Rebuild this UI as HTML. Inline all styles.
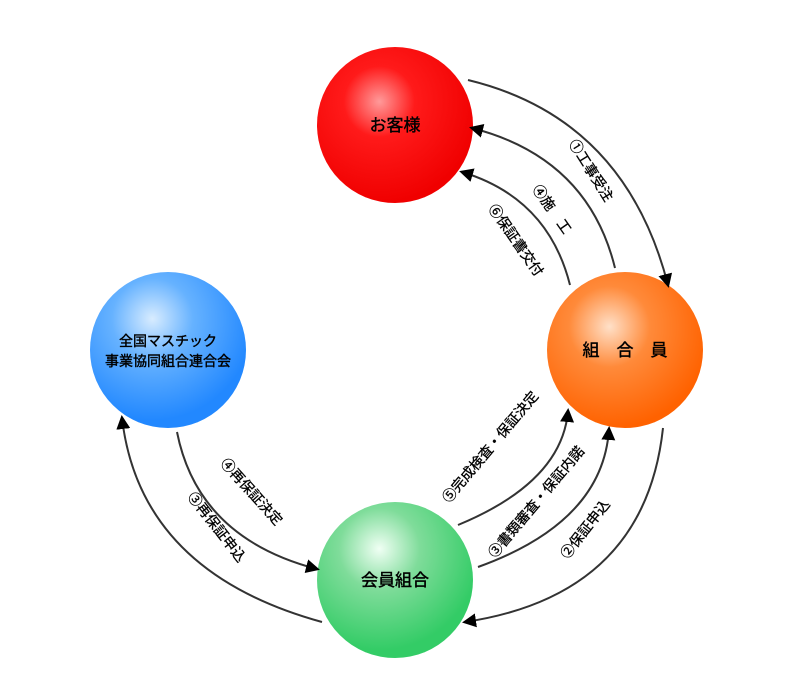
<!DOCTYPE html>
<html><head><meta charset="utf-8"><style>
html,body{margin:0;padding:0;background:#fff;}
svg{display:block;font-family:"Liberation Sans","Noto Sans CJK JP",sans-serif;}
</style></head><body>
<svg width="800" height="700" viewBox="0 0 800 700">
<defs>
<marker id="a" markerWidth="14" markerHeight="14" refX="11" refY="7" orient="auto" markerUnits="userSpaceOnUse"><path d="M0,0 L14,7 L0,14 Z" fill="#000"/></marker>
<radialGradient id="r" cx="0.4" cy="0.35" r="0.65"><stop offset="0" stop-color="#ff9a9a"/><stop offset="0.35" stop-color="#ff1a1a"/><stop offset="1" stop-color="#f00000"/></radialGradient>
<radialGradient id="o" cx="0.4" cy="0.35" r="0.65"><stop offset="0" stop-color="#ffe0c8"/><stop offset="0.4" stop-color="#ff8a3a"/><stop offset="1" stop-color="#ff6200"/></radialGradient>
<radialGradient id="b" cx="0.4" cy="0.3" r="0.65"><stop offset="0" stop-color="#d8ecff"/><stop offset="0.4" stop-color="#66b2ff"/><stop offset="1" stop-color="#2288ff"/></radialGradient>
<radialGradient id="g" cx="0.4" cy="0.3" r="0.65"><stop offset="0" stop-color="#f0fff4"/><stop offset="0.4" stop-color="#7fdc9a"/><stop offset="1" stop-color="#33cc66"/></radialGradient>
</defs>
<circle cx="395" cy="125" r="78" fill="url(#r)"/>
<circle cx="625" cy="350" r="78" fill="url(#o)"/>
<circle cx="168" cy="350" r="78" fill="url(#b)"/>
<circle cx="395" cy="580" r="78" fill="url(#g)"/>
<g fill="none" stroke="#333" stroke-width="2">
<path d="M468,80 Q625,118 668,285" marker-end="url(#a)"/>
<path d="M615,268 Q588,158 472,128" marker-end="url(#a)"/>
<path d="M570,285 Q548,198 462,172" marker-end="url(#a)"/>
<path d="M663,428 Q645,595 465,622" marker-end="url(#a)"/>
<path d="M478,567 Q603,522 609,429" marker-end="url(#a)"/>
<path d="M458,525 Q562,482 568,411" marker-end="url(#a)"/>
<path d="M177,432 Q198,538 317,569" marker-end="url(#a)"/>
<path d="M322,622 Q140,572 122,418" marker-end="url(#a)"/>
</g>
<g font-size="17" text-anchor="middle" fill="#000" stroke="#000" stroke-width="0.4">
<text x="395" y="131">お客様</text>
<text x="625" y="356">組　合　員</text>
<text x="395" y="586">会員組合</text>
<text x="168" y="346" font-size="14">全国マスチック</text>
<text x="168" y="366" font-size="14">事業協同組合連合会</text>
</g>
<g font-size="14" text-anchor="middle" fill="#000" stroke="#000" stroke-width="0.3">
<text transform="translate(587,173) rotate(58)">①工事受注</text>
<text transform="translate(548,212) rotate(55)">④施　工</text>
<text transform="translate(512,243) rotate(55)">⑥保証書交付</text>
<text transform="translate(494,450) rotate(-50)">⑤完成検査・保証決定</text>
<text transform="translate(540,505) rotate(-50)">③書類審査・保証内諾</text>
<text transform="translate(589,532) rotate(-52)">②保証申込</text>
<text transform="translate(248,495) rotate(48)">④再保証決定</text>
<text transform="translate(213,530) rotate(52)">③再保証申込</text>
</g>
</svg>
</body></html>
